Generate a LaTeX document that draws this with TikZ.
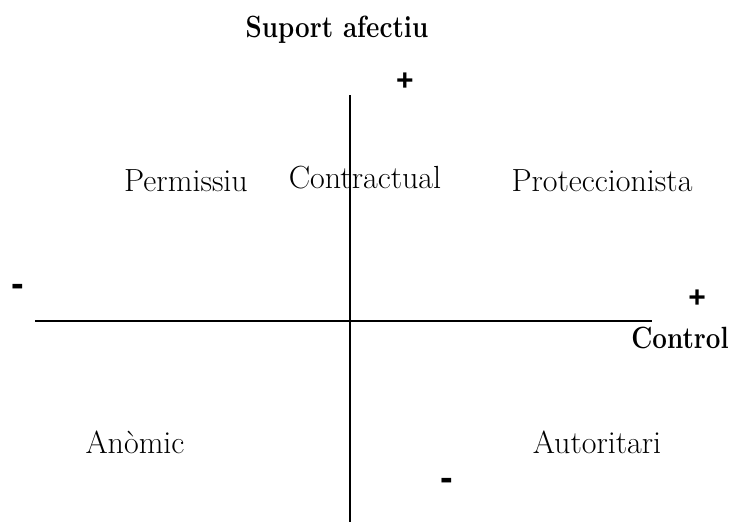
\documentclass[tikz,border=0pt]{standalone}
\usepackage{graphicx}
\usepackage{fontspec}
\newfontfamily\signfont{Liberation Sans}
% tall bold axis titles
\newcommand{\axistitle}[1]{\scalebox{1}[1.18]{#1}}
\begin{document}
\begin{tikzpicture}[x=1pt,y=-1pt,
  axis/.style={line width=1.5pt},
  quad/.style={font=\fontsize{32}{36}\selectfont, inner sep=0pt},
  title/.style={font=\fontsize{26}{30}\selectfont\bfseries, inner sep=0pt},
  plus/.style={font=\signfont\fontsize{30}{34}\selectfont\bfseries, inner sep=0pt},
  minus/.style={font=\signfont\fontsize{38}{42}\selectfont\bfseries, inner sep=0pt}]
\useasboundingbox (0,0) rectangle (730,527);
% axes
\coordinate (vtop) at (350,95);
\coordinate (vbot) at (350,522);
\coordinate (hleft) at (35,321);
\coordinate (hright) at (652,321);
\draw[axis] (vtop) -- (vbot);
\draw[axis] (hleft) -- (hright);
% axis titles and signs
\node[title] (support) at (337,30) {\axistitle{Suport afectiu}};
\node[title] (control) at (680,338) {\axistitle{Control}};
\node[plus] (ptop) at (405,82) {+};
\node[plus] (pright) at (697,299) {+};
\node[minus] (mleft) at (18,290) {-};
\node[minus] (mbot) at (447,484) {-};
% styles of each quadrant
\node[quad] (permissiu) at (186,181) {Permissiu};
\node[quad] (contractual) at (365,178) {Contractual};
\node[quad] (proteccionista) at (602,181) {Proteccionista};
\node[quad] (anomic) at (135,442) {Anòmic};
\node[quad] (autoritari) at (597,442) {Autoritari};
\end{tikzpicture}
\end{document}
